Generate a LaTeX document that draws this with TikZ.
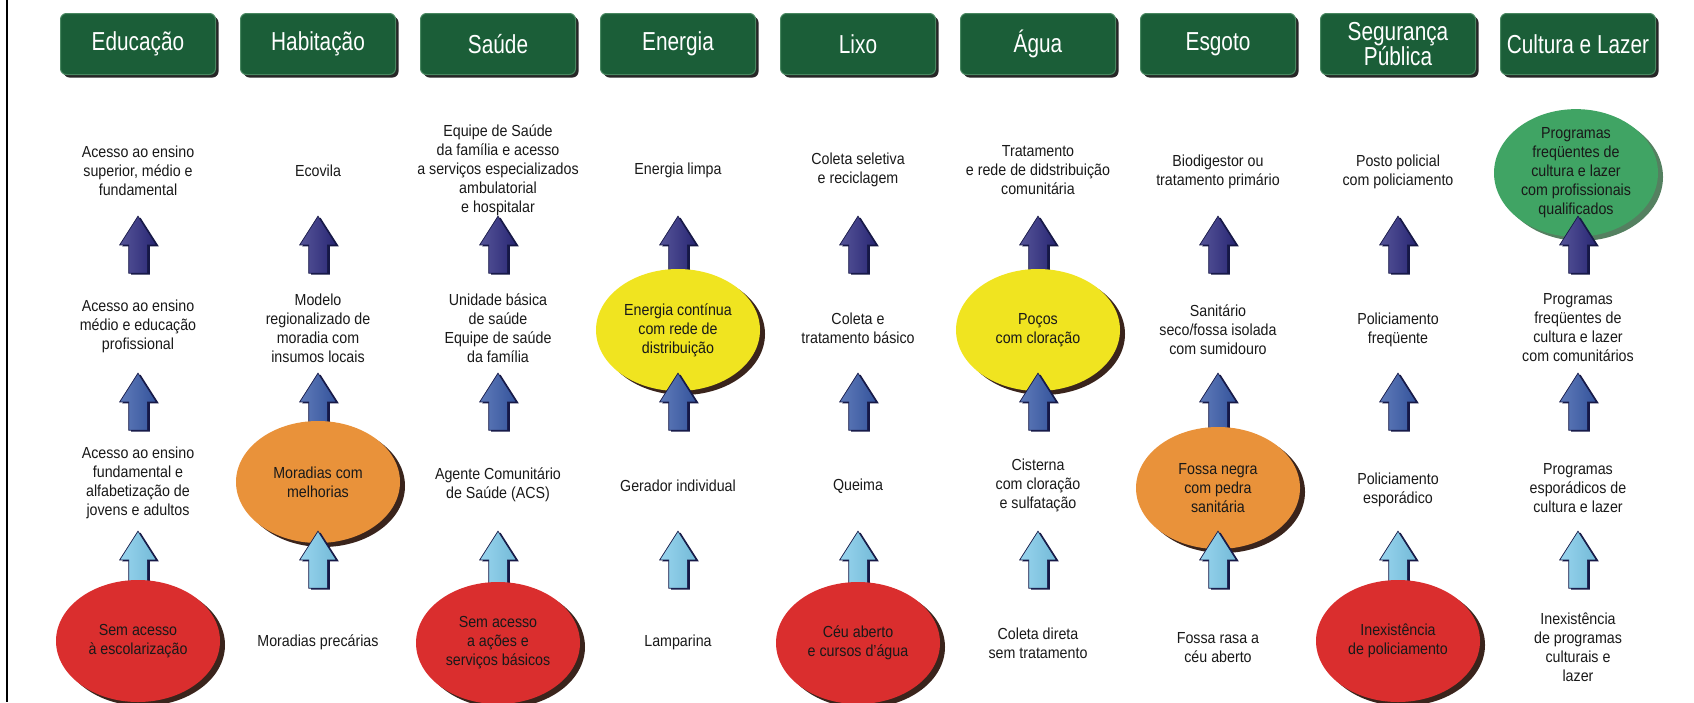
\documentclass[tikz,border=0pt]{standalone}
\usepackage{fontspec}
\setmainfont[FakeStretch=0.89]{Liberation Sans}
\newfontfamily\headfont[FakeStretch=0.8]{Liberation Sans}
\usetikzlibrary{shapes.geometric,shapes.arrows,shadows,calc}

\definecolor{boxgreen}{RGB}{27,94,56}
\definecolor{boxedge}{RGB}{72,135,96}
\definecolor{ovred}{RGB}{218,46,46}
\definecolor{ovorange}{RGB}{233,146,58}
\definecolor{ovyellow}{RGB}{240,228,32}
\definecolor{ovgreen}{RGB}{64,164,100}
\definecolor{rimbrown}{RGB}{58,36,28}
\definecolor{rimgreen}{RGB}{84,128,96}
\definecolor{arrdark}{RGB}{44,42,126}
\definecolor{arrmid}{RGB}{56,90,168}
\definecolor{arrlight}{RGB}{126,202,234}
\definecolor{arrline}{RGB}{22,24,70}

\tikzset{
  header/.style={rounded corners=6pt, fill=boxgreen, draw=boxedge, line width=1pt,
    minimum width=155pt, minimum height=61pt, inner sep=0pt, text=white, align=center,
    font=\headfont\fontsize{26}{22}\selectfont,
    drop shadow={shadow xshift=3pt, shadow yshift=-3pt, opacity=1, fill=black!85}},
  lbl/.style={align=center, font=\fontsize{16}{19}\selectfont, text=black!90},
  oval/.style={ellipse, minimum width=164pt, minimum height=122pt, inner sep=0pt,
    align=center, font=\fontsize{16}{19}\selectfont, text=black!90,
    drop shadow={shadow xshift=5pt, shadow yshift=-4pt, opacity=1, fill=#1}},
  oval/.default=rimbrown,
  upblock/.style={single arrow, shape border rotate=90, minimum height=57pt,
    inner sep=9pt, single arrow head extend=9pt, single arrow tip angle=65,
    draw=arrline, line width=0.7pt, left color=#1!80!white, right color=#1!92!black,
    drop shadow={shadow xshift=2.5pt, shadow yshift=-1.5pt, opacity=1, fill=arrline}}
}

\begin{document}
\begin{tikzpicture}[x=1pt,y=-1pt]
	\useasboundingbox (0,0) rectangle (1694,702);
	\clip (0,0) rectangle (1694,702);
	\draw[line width=2.5pt] (7,0) -- (7,702);

	% titles
	\foreach \name [count=\i from 0] in {Educação, Habitação, Saúde, Energia, Lixo, Água, Esgoto, {Segurança\\Pública}, Cultura e Lazer}
		\node[header] (hd\i) at (138+180*\i, 44) {\name};

	% top row
	\node[lbl] (edu1) at (138,171) {Acesso ao ensino\\superior, médio e\\fundamental};
	\node[lbl] (hab1) at (318,171) {Ecovila};
	\node[lbl] (sau1) at (498,170) {Equipe de Saúde\\da família e acesso\\a serviços especializados\\ambulatorial\\e hospitalar};
	\node[lbl] (ene1) at (678,170) {Energia limpa};
	\node[lbl] (lix1) at (858,170) {Coleta seletiva\\e reciclagem};
	\node[lbl] (agu1) at (1038,170) {Tratamento\\e rede de didstribuição\\comunitária};
	\node[lbl] (esg1) at (1218,172) {Biodigestor ou\\tratamento primário};
	\node[lbl] (seg1) at (1398,172) {Posto policial\\com policiamento};
	\node[oval=rimgreen, fill=ovgreen] (cul1) at (1576,173) {Programas\\freqüentes de\\cultura e lazer\\com profissionais\\qualificados};

	\foreach \i in {0,...,8}
		\node[upblock=arrdark] (up1-\i) at (138+180*\i, 252) {};

	% second row
	\node[lbl] (edu2) at (138,326) {Acesso ao ensino\\médio e educação\\profissional};
	\node[lbl] (hab2) at (318,328) {Modelo\\regionalizado de\\moradia com\\insumos locais};
	\node[lbl] (sau2) at (498,328) {Unidade básica\\de saúde\\Equipe de saúde\\da família};
	\node[oval, fill=ovyellow] (ene2) at (678,330) {Energia contínua\\com rede de\\distribuição};
	\node[lbl] (lix2) at (858,328) {Coleta e\\tratamento básico};
	\node[oval, fill=ovyellow] (agu2) at (1038,330) {Poços\\com cloração};
	\node[lbl] (esg2) at (1218,330) {Sanitário\\seco/fossa isolada\\com sumidouro};
	\node[lbl] (seg2) at (1398,330) {Policiamento\\freqüente};
	\node[lbl] (cul2) at (1578,328) {Programas\\freqüentes de\\cultura e lazer\\com comunitários};

	\foreach \i in {0,...,8}
		\node[upblock=arrmid] (up2-\i) at (138+180*\i, 409) {};

	% third row
	\node[lbl] (edu3) at (138,483) {Acesso ao ensino\\fundamental e\\alfabetização de\\jovens e adultos};
	\node[oval, fill=ovorange] (hab3) at (318,482) {Moradias com\\melhorias};
	\node[lbl] (sau3) at (498,485) {Agente Comunitário\\de Saúde (ACS)};
	\node[lbl] (ene3) at (678,486) {Gerador individual};
	\node[lbl] (lix3) at (858,486) {Queima};
	\node[lbl] (agu3) at (1038,485) {Cisterna\\com cloração\\e sulfatação};
	\node[oval, fill=ovorange] (esg3) at (1218,488) {Fossa negra\\com pedra\\sanitária};
	\node[lbl] (seg3) at (1398,490) {Policiamento\\esporádico};
	\node[lbl] (cul3) at (1578,488) {Programas\\esporádicos de\\cultura e lazer};

	\foreach \i in {0,...,8}
		\node[upblock=arrlight] (up3-\i) at (138+180*\i, 567) {};

	% bottom row
	\node[oval, fill=ovred] (edu4) at (138,641) {Sem acesso\\à escolarização};
	\node[lbl] (hab4) at (318,642) {Moradias precárias};
	\node[oval, fill=ovred] (sau4) at (498,643) {Sem acesso\\a ações e\\serviços básicos};
	\node[lbl] (ene4) at (678,642) {Lamparina};
	\node[oval, fill=ovred] (lix4) at (858,643) {Céu aberto\\e cursos d’água};
	\node[lbl] (agu4) at (1038,643) {Coleta direta\\sem tratamento};
	\node[lbl] (esg4) at (1218,648) {Fossa rasa a\\céu aberto};
	\node[oval, fill=ovred] (seg4) at (1398,641) {Inexistência\\de policiamento};
	\node[lbl] (cul4) at (1578,647) {Inexistência\\de programas\\culturais e\\lazer};
\end{tikzpicture}
\end{document}
